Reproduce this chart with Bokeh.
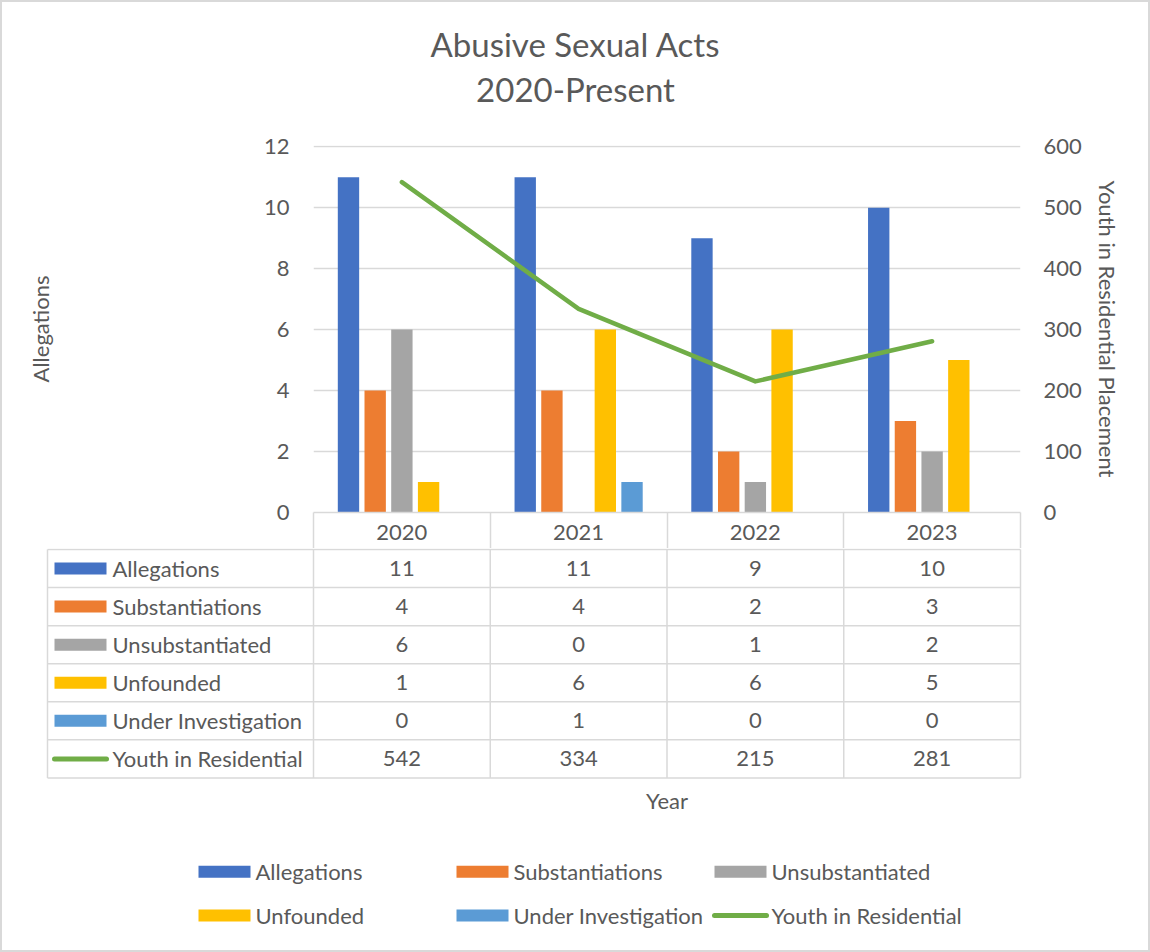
from bokeh.plotting import figure
from bokeh.models import (FactorRange, Range1d, LinearAxis, FixedTicker, ColumnDataSource,
                          CustomJSTickFormatter)
from bokeh.layouts import column
from bokeh.embed import file_html
from bokeh.resources import INLINE
from bokeh.core.properties import value

# ---------------- data ----------------
years = ["2020", "2021", "2022", "2023"]
bar_series = ["Allegations", "Substantiations", "Unsubstantiated", "Unfounded", "Under Investigation"]
allegations = [11, 11, 9, 10]
substantiations = [4, 4, 2, 3]
unsubstantiated = [6, 0, 1, 2]
unfounded = [1, 6, 6, 5]
under_investigation = [0, 1, 0, 0]
line_name = "Youth in Residential"
youth = [542, 334, 215, 281]
left_ticks = [0, 2, 4, 6, 8, 10, 12]
right_ticks = [0, 100, 200, 300, 400, 500, 600]
title_lines = ["Abusive Sexual Acts", "2020-Present"]
left_label = "Allegations"
right_label = "Youth in Residential Placement"
x_title = "Year"

# ---------------- styles ----------------
BLUE, ORANGE, GRAY, YELLOW, LBLUE, GREEN = "#4472C4", "#ED7D31", "#A5A5A5", "#FFC000", "#5B9BD5", "#70AD47"
bar_colors = [BLUE, ORANGE, GRAY, YELLOW, LBLUE]
FONT = "Lato"
TEXT = "#595959"
GRID = "#D9D9D9"
FS = "22px"
W = 1150

bar_values = [allegations, substantiations, unsubstantiated, unfounded, under_investigation]


def blank(fig):
    fig.xgrid.visible = False
    fig.ygrid.visible = False
    fig.outline_line_color = None
    fig.background_fill_color = None
    fig.border_fill_color = None


# ---------------- title ----------------
t = figure(width=W, height=120, x_range=Range1d(0, 1), y_range=Range1d(0, 120),
           toolbar_location=None, output_backend="svg", min_border=0,
           x_axis_location=None, y_axis_location=None, frame_align=False)
blank(t)
t.text(x=[0.5, 0.5], y=[77, 32], text=title_lines, text_align="center", text_baseline="middle",
       text_font=value(FONT), text_font_size="33px", text_color=TEXT)

# ---------------- chart ----------------
factors = [(y, s) for y in years for s in bar_series]
xr = FactorRange(*factors, group_padding=1.62, range_padding=0.0652)
p = figure(width=W, height=428, x_range=xr, y_range=Range1d(0, 12.04),
           toolbar_location=None, output_backend="svg",
           min_border_left=313, min_border_right=130, min_border_top=25, min_border_bottom=36,
           x_axis_location=None, y_axis_location="left", frame_align=False)
blank(p)
p.ygrid.visible = True
p.ygrid.ticker = FixedTicker(ticks=left_ticks)
p.ygrid.grid_line_color = GRID
p.ygrid.grid_line_width = 1.5

ax = p.yaxis[0]
ax.ticker = FixedTicker(ticks=left_ticks)
ax.axis_line_color = None
ax.major_tick_line_color = None
ax.minor_tick_line_color = None
ax.major_tick_out = 0
ax.major_tick_in = 0
ax.major_label_text_font = FONT
ax.major_label_text_font_size = FS
ax.major_label_text_color = TEXT
ax.major_label_standoff = 24
ax.axis_label = left_label
ax.axis_label_text_font = FONT
ax.axis_label_text_font_size = FS
ax.axis_label_text_font_style = "normal"
ax.axis_label_text_color = TEXT
ax.axis_label_standoff = 207

p.extra_y_ranges = {"youth": Range1d(0, 12.04 * 50)}
rax = LinearAxis(y_range_name="youth", ticker=FixedTicker(ticks=right_ticks))
rax.axis_line_color = None
rax.major_tick_line_color = None
rax.minor_tick_line_color = None
rax.major_tick_out = 0
rax.major_tick_in = 0
rax.major_label_text_font = FONT
rax.major_label_text_font_size = FS
rax.major_label_text_color = TEXT
rax.major_label_standoff = 23
rax.axis_label = right_label
rax.axis_label_text_font = FONT
rax.axis_label_text_font_size = FS
rax.axis_label_text_font_style = "normal"
rax.axis_label_text_color = TEXT
rax.axis_label_standoff = 9
p.add_layout(rax, "right")

# data-table header row: year labels at column centres, separators at column edges
p.extra_x_ranges = {"cols": FactorRange(*years, range_padding=0)}
ncols = len(years)
bax = LinearAxis(x_range_name="cols",
                 ticker=FixedTicker(ticks=[i + 0.5 for i in range(ncols)],
                                    minor_ticks=list(range(ncols + 1))),
                 formatter=CustomJSTickFormatter(args=dict(years=years), code="return years[index];"))
bax.axis_line_color = GRID
bax.axis_line_width = 1.5
bax.major_tick_line_color = None
bax.major_tick_in = 0
bax.major_tick_out = 0
bax.minor_tick_line_color = GRID
bax.minor_tick_line_width = 1.5
bax.minor_tick_in = 0
bax.minor_tick_out = 36
bax.major_label_text_font = FONT
bax.major_label_text_font_size = FS
bax.major_label_text_color = TEXT
bax.major_label_standoff = -24
p.add_layout(bax, "below")

bar_src = ColumnDataSource(dict(
    x=factors,
    top=[bar_values[j][i] for i in range(len(years)) for j in range(len(bar_series))],
    color=[bar_colors[j] for i in range(len(years)) for j in range(len(bar_series))],
))
p.vbar(x="x", top="top", width=0.8, source=bar_src, fill_color="color", line_color=None)
p.line(x=years, y=youth, y_range_name="youth", line_color=GREEN, line_width=4.5,
       line_cap="round", line_join="round")

# ---------------- data table body + legend ----------------
COLW = 707 / 4.0     # px per year column
ROWH = 229 / 6.0     # px per table row


def cx(px):  # layout helper: page px -> column units
    return (px - 313) / COLW


def cy(px):  # layout helper: page px -> row units
    return (777 - px) / ROWH


f2 = figure(width=W, height=404, x_range=Range1d(cx(0), cx(1150)), y_range=Range1d(cy(952), cy(547)),
            toolbar_location=None, output_backend="svg", min_border=0,
            x_axis_location=None, y_axis_location=None, frame_align=False)
blank(f2)

row_names = bar_series + [line_name]
row_values = bar_values + [youth]
nrows = len(row_names)
left_edge = cx(47)

# grid lines
hy = list(range(nrows + 1))
f2.segment(x0=[left_edge] * (nrows + 1), y0=hy, x1=[ncols] * (nrows + 1), y1=hy,
           line_color=GRID, line_width=1.5)
vx = [left_edge] + list(range(ncols + 1))
f2.segment(x0=vx, y0=[0] * len(vx), x1=vx, y1=[nrows] * len(vx), line_color=GRID, line_width=1.5)

# cells
cell_x, cell_y, cell_t = [], [], []
for k, vals in enumerate(row_values):
    for i, v in enumerate(vals):
        cell_x.append(i + 0.5)
        cell_y.append(nrows - k - 0.5)
        cell_t.append(str(v))
f2.text(x=cell_x, y=cell_y, text=cell_t, text_align="center", text_baseline="middle",
        text_font=value(FONT), text_font_size=FS, text_color=TEXT)

# row headers with keys
row_y = [nrows - k - 0.5 for k in range(nrows)]
f2.rect(x=[cx(80)] * len(bar_series), y=row_y[:len(bar_series)], width=52, height=12,
        width_units="screen", height_units="screen", fill_color=bar_colors, line_color=None)
f2.segment(x0=[cx(54)], y0=[row_y[-1]], x1=[cx(106)], y1=[row_y[-1]], line_color=GREEN,
           line_width=5, line_cap="round")
f2.text(x=[cx(112)] * nrows, y=row_y, text=row_names, text_align="left", text_baseline="middle",
        text_font=value(FONT), text_font_size=FS, text_color=TEXT)

# x title
f2.text(x=[ncols / 2.0], y=[cy(800)], text=[x_title], text_align="center", text_baseline="middle",
        text_font=value(FONT), text_font_size=FS, text_color=TEXT)

# legend
sw_cx = [224, 482, 740]
txt_x = [255, 513, 771]
leg_y = [871, 915]
for idx, name in enumerate(row_names):
    c, r = idx % 3, idx // 3
    yy = cy(leg_y[r])
    if idx < len(bar_series):
        f2.rect(x=[cx(sw_cx[c])], y=[yy], width=52, height=12, width_units="screen",
                height_units="screen", fill_color=bar_colors[idx], line_color=None)
    else:
        f2.segment(x0=[cx(sw_cx[c] - 26)], y0=[yy], x1=[cx(sw_cx[c] + 26)], y1=[yy],
                   line_color=GREEN, line_width=5, line_cap="round")
    f2.text(x=[cx(txt_x[c])], y=[yy], text=[name], text_align="left", text_baseline="middle",
            text_font=value(FONT), text_font_size=FS, text_color=TEXT)

layout = column(t, p, f2, spacing=0,
                styles={"outline": "2px solid #D9D9D9", "outline-offset": "-2px",
                        "background-color": "white"})

open("out.html", "w").write(file_html(layout, INLINE))
